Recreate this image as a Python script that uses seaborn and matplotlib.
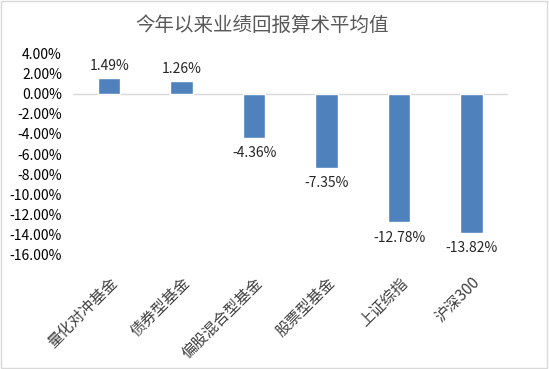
import pandas as pd
import matplotlib
matplotlib.use('Agg')
import matplotlib.pyplot as plt
import seaborn as sns

# chart data
categories = ['量化对冲基金', '债券型基金', '偏股混合型基金', '股票型基金', '上证综指', '沪深300']
returns = [1.49, 1.26, -4.36, -7.35, -12.78, -13.82]
yticks = [4, 2, 0, -2, -4, -6, -8, -10, -12, -14, -16]

sns.set_theme(style='white')
plt.rcParams['font.family'] = ['Noto Sans CJK SC', 'DejaVu Sans']

data = pd.DataFrame({'name': categories, 'ret': returns})

fig = plt.figure(figsize=(5.49, 3.69), dpi=100)
ax = fig.add_axes([0.133, 0.309, 0.792, 0.547])
sns.barplot(data=data, x='name', y='ret', color='#4F81BD', width=0.31,
            saturation=1, ax=ax)

ax.set_ylim(-16, 4)
ax.set_xlim(-0.5, len(categories) - 0.5)
ax.set_yticks(yticks)
ax.set_yticklabels([f'{v:.2f}%' for v in yticks], fontsize=10, color='#000000')
ax.set_xticks(range(len(categories)))
ax.set_xticklabels(categories, rotation=45, ha='right', va='top',
                   rotation_mode='anchor', fontsize=11, color='#404040')
ax.tick_params(axis='both', length=0)
ax.tick_params(axis='y', pad=8)
ax.tick_params(axis='x', pad=14)
ax.set_xlabel('')
ax.set_ylabel('')
for s in ax.spines.values():
    s.set_visible(False)
ax.axhline(0, color='#D9D9D9', lw=1, zorder=0)

# data labels
for i, v in enumerate(returns):
    if v >= 0:
        ax.text(i, v + 0.5, f'{v:.2f}%', ha='center', va='bottom', fontsize=10)
    else:
        ax.text(i, v - 0.8, f'{v:.2f}%', ha='center', va='top', fontsize=10)

fig.text(0.478, 0.932, '今年以来业绩回报算术平均值', ha='center', va='center',
         fontsize=14, color='#595959')

# light border round the chart
fig.patches.append(plt.Rectangle((0.002, 0.003), 0.995, 0.994, transform=fig.transFigure,
                                 fill=False, edgecolor='#D9D9D9', lw=1))

plt.savefig('out.png', dpi=100)
